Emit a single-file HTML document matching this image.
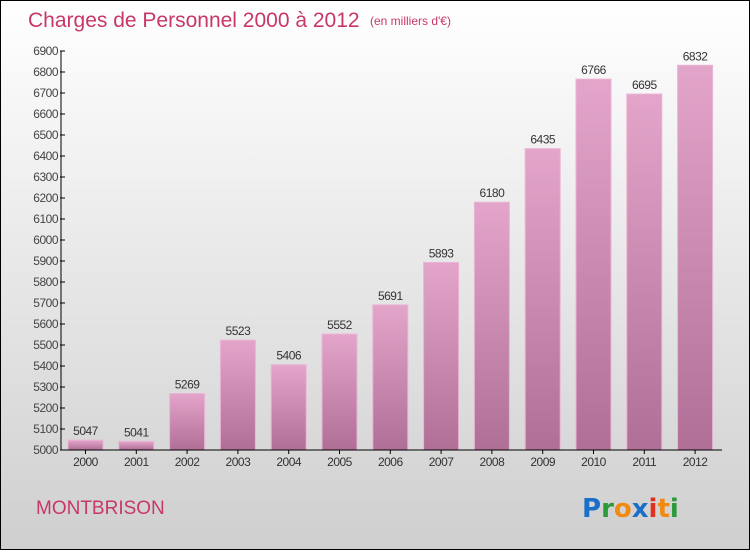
<!DOCTYPE html>
<html><head><meta charset="utf-8"><style>
body{margin:0}
#c{width:750px;height:550px;position:relative;font-family:"Liberation Sans",sans-serif}
</style></head><body>
<div id="c">
<svg width="750" height="550">
<defs>
<linearGradient id="bg" x1="0" y1="0" x2="0" y2="1"><stop offset="0" stop-color="#ffffff"/><stop offset="1" stop-color="#cfcfcf"/></linearGradient>
<linearGradient id="bar" x1="0" y1="0" x2="0" y2="1"><stop offset="0" stop-color="#e4a5cb"/><stop offset="1" stop-color="#b06f96"/></linearGradient>
</defs>
<rect x="0.5" y="0.5" width="749" height="549" fill="url(#bg)" stroke="#000"/>
<text x="28" y="27" font-size="21" fill="#c8376a">Charges de Personnel 2000 à 2012</text>
<text x="370" y="25" font-size="12" fill="#c8376a">(en milliers d'€)</text>
<g id="yaxis"></g>
<g id="bars"></g>
<g id="xaxis"></g>
<text x="36" y="514" font-size="19" fill="#c8376a">MONTBRISON</text>
<text x="582" y="517" font-size="26" font-weight="bold" font-family="'DejaVu Sans',sans-serif"><tspan fill="#1a6fc9">P</tspan><tspan fill="#2a9a3a">r</tspan><tspan fill="#f08a10">o</tspan><tspan fill="#1a6fc9">x</tspan><tspan fill="#e03020">i</tspan><tspan fill="#f08a10">t</tspan><tspan fill="#2a9a3a">i</tspan></text>
</svg>
</div>
<script>
const years=["2000","2001","2002","2003","2004","2005","2006","2007","2008","2009","2010","2011","2012"];
const values=[5047,5041,5269,5523,5406,5552,5691,5893,6180,6435,6766,6695,6832];
const yTicks=[5000,5100,5200,5300,5400,5500,5600,5700,5800,5900,6000,6100,6200,6300,6400,6500,6600,6700,6800,6900];
const NS="http://www.w3.org/2000/svg";
const y0=450,y1=51,vmin=5000,vmax=6900,ax=61;
function yS(v){return y0-(v-vmin)/(vmax-vmin)*(y0-y1);}
function xS(i){return 85.5+50.8*i;}
function mk(t,a,p){const e=document.createElementNS(NS,t);for(const k in a)e.setAttribute(k,a[k]);p.appendChild(e);return e;}
const ya=document.getElementById('yaxis'),xa=document.getElementById('xaxis'),bg=document.getElementById('bars');
let l=mk('line',{x1:ax,y1:y1,x2:ax,y2:y0,stroke:'#000'},ya);


yTicks.forEach(v=>{const y=yS(v);
 const t=mk('line',{x1:ax-1,x2:ax+4,y1:y,y2:y,stroke:'#000'},ya);
 
 
 const tx=mk('text',{x:ax-3,y:y+4,'font-size':12,fill:'#444','text-anchor':'end','letter-spacing':'-0.5'},ya);
 tx.textContent=v;
 
 
});
const xl=mk('line',{x1:ax,x2:722,y1:y0,y2:y0,stroke:'#000'},xa);


years.forEach((yr,i)=>{const cx=xS(i),v=values[i],y=yS(v);
 const r=mk('rect',{x:cx-17.5,y:y,width:35,height:y0-y,fill:'url(#bar)',stroke:'#eab4d4','stroke-width':1},bg);
 
 
 const vl=mk('text',{x:cx,y:y-5,'font-size':12,fill:'#333','text-anchor':'middle','letter-spacing':'-0.5'},bg);
 vl.textContent=v;
 
 
 const t=mk('line',{x1:cx,x2:cx,y1:y0,y2:y0+4,stroke:'#000'},xa);
 
 
 const xt=mk('text',{x:cx,y:y0+16,'font-size':12,fill:'#333','text-anchor':'middle','letter-spacing':'-0.5'},xa);
 xt.textContent=yr;
 
 
});
</script>
</body></html>
